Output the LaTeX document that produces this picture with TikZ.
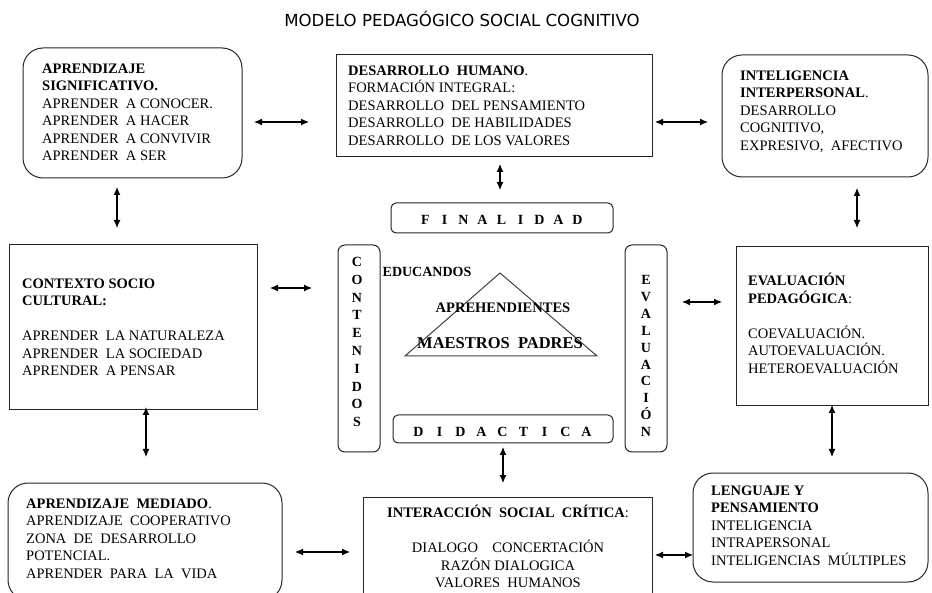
\documentclass[tikz,border=0pt]{standalone}
\usepackage{fontspec}
\setmainfont{Liberation Serif}
\newfontfamily\titlefont{DejaVu Sans}
\usetikzlibrary{arrows.meta}
\newcommand\tstrut{\rule{0pt}{12pt}}
\tikzset{
  box/.style={draw=black!85, line width=1pt, inner sep=0pt},
  rbox/.style={box, rounded corners=20pt},
  vbox/.style={box, rounded corners=7pt},
  hbox/.style={box, rounded corners=5pt},
  txt/.style={anchor=north west, align=left, inner sep=0pt, font=\fontsize{14.5}{17.5}\selectfont},
  vletters/.style={align=center, inner sep=0pt},
  biarrow/.style={{Latex[length=8pt,width=7pt]}-{Latex[length=8pt,width=7pt]}, line width=1.1pt},
}
\begin{document}
\begin{tikzpicture}[x=1pt,y=-1pt]
\useasboundingbox (0,0) rectangle (932,593);
\clip (0,0) rectangle (932,593);
\fill[white] (0,0) rectangle (932,593);

% title
\node[font=\titlefont\fontsize{16.6}{19}\selectfont, anchor=base, inner sep=0pt] (title) at (462,27) {MODELO PEDAGÓGICO SOCIAL COGNITIVO};

% boxes
\node[rbox, minimum width=219pt, minimum height=130pt] (sig) at (132.5,113) {};
\node[box, minimum width=316pt, minimum height=102pt] (des) at (494,106) {};
\node[rbox, minimum width=206pt, minimum height=122pt] (inter) at (825,116) {};
\node[box, minimum width=248pt, minimum height=165pt] (ctx) at (133,327.5) {};
\node[hbox, minimum width=222pt, minimum height=30pt] (fin) at (502,218) {};
\node[vbox, minimum width=42pt, minimum height=207pt] (cont) at (359,348.5) {};
\node[vbox, minimum width=42pt, minimum height=207pt] (eval) at (646,348.5) {};
\node[hbox, minimum width=220pt, minimum height=28pt] (did) at (503,429) {};
\node[box, minimum width=192pt, minimum height=159pt] (evp) at (832,326.5) {};
\node[rbox, minimum width=274pt, minimum height=117pt] (med) at (145,541.5) {};
\node[box, minimum width=289pt, minimum height=103pt] (isc) at (507.5,548.5) {};
\node[rbox, minimum width=235pt, minimum height=109pt] (len) at (810.5,527.5) {};

% texts
\node[txt] (sigt) at (42,61) {\tstrut\textbf{APRENDIZAJE}\\\textbf{SIGNIFICATIVO.}\\APRENDER~ A CONOCER.\\APRENDER~ A HACER\\APRENDER~ A CONVIVIR\\APRENDER~ A SER};
\node[txt] (dest) at (348,63) {\tstrut\textbf{DESARROLLO~ HUMANO}.\\FORMACIÓN INTEGRAL:\\DESARROLLO~ DEL PENSAMIENTO\\DESARROLLO~ DE HABILIDADES\\DESARROLLO~ DE LOS VALORES};
\node[txt] (intert) at (740,68) {\tstrut\textbf{INTELIGENCIA}\\\textbf{INTERPERSONAL}.\\DESARROLLO\\COGNITIVO,\\EXPRESIVO,~ AFECTIVO};
\node[txt] (ctxt) at (22,276) {\tstrut\textbf{CONTEXTO SOCIO}\\\textbf{CULTURAL:}\\[17.5pt]APRENDER~ LA NATURALEZA\\APRENDER~ LA SOCIEDAD\\APRENDER~ A PENSAR};
\node[txt] (evpt) at (748,273) {\tstrut\textbf{EVALUACIÓN}\\\textbf{PEDAGÓGICA}:\\[17.5pt]COEVALUACIÓN.\\AUTOEVALUACIÓN.\\HETEROEVALUACIÓN};
\node[txt] (medt) at (26,496) {\tstrut\textbf{APRENDIZAJE~ MEDIADO}.\\APRENDIZAJE~ COOPERATIVO\\ZONA~ DE~ DESARROLLO\\POTENCIAL.\\APRENDER~ PARA~ LA~ VIDA};
\node[txt, anchor=north, align=center] (isct) at (508,505) {\tstrut\textbf{INTERACCIÓN~ SOCIAL~ CRÍTICA}:\\[17.5pt]DIALOGO~~~ CONCERTACIÓN\\RAZÓN DIALOGICA\\VALORES~ HUMANOS};
\node[txt] (lent) at (711,483) {\tstrut\textbf{LENGUAJE Y}\\\textbf{PENSAMIENTO}\\INTELIGENCIA\\INTRAPERSONAL\\INTELIGENCIAS~ MÚLTIPLES};

% spaced labels
\node[inner sep=0pt, anchor=base, font=\bfseries\fontsize{14}{17}\selectfont] (fint) at (501.5,225)
  {\makebox[19pt]{F}\makebox[19pt]{I}\makebox[19pt]{N}\makebox[19pt]{A}\makebox[19pt]{L}\makebox[19pt]{I}\makebox[19pt]{D}\makebox[19pt]{A}\makebox[19pt]{D}};
\node[inner sep=0pt, anchor=base, font=\bfseries\fontsize{14}{17}\selectfont] (didt) at (502.5,437)
  {\makebox[21pt]{D}\makebox[21pt]{I}\makebox[21pt]{D}\makebox[21pt]{A}\makebox[21pt]{C}\makebox[21pt]{T}\makebox[21pt]{I}\makebox[21pt]{C}\makebox[21pt]{A}};
\node[vletters, font=\bfseries\fontsize{14}{17.8}\selectfont] (contt) at (357,342) {C\\O\\N\\T\\E\\N\\I\\D\\O\\S};
\node[vletters, font=\bfseries\fontsize{14}{16.9}\selectfont] (evalt) at (646,356) {E\\V\\A\\L\\U\\A\\C\\I\\Ó\\N};

% triangle
\coordinate (tA) at (500,273);
\coordinate (tB) at (405,356);
\coordinate (tC) at (597,356);
\draw[line width=1pt, draw=black!75] (tA) -- (tB) -- (tC) -- cycle;
\node[inner sep=0pt, anchor=base, font=\bfseries\fontsize{14}{17}\selectfont] (edu) at (427,277) {EDUCANDOS};
\node[inner sep=0pt, anchor=base, font=\bfseries\fontsize{14.5}{17}\selectfont] (apr) at (503,313) {APREHENDIENTES};
\node[inner sep=0pt, anchor=base, font=\bfseries\fontsize{16.5}{19}\selectfont] (mae) at (500,349) {MAESTROS~~PADRES};

% arrow end points
\coordinate (a1s) at (254,122); \coordinate (a1e) at (309,122);
\coordinate (a2s) at (655,122); \coordinate (a2e) at (708,122);
\coordinate (a3s) at (117,187); \coordinate (a3e) at (117,228);
\coordinate (a4s) at (500,164); \coordinate (a4e) at (500,190);
\coordinate (a5s) at (857,188); \coordinate (a5e) at (857,228);
\coordinate (a6s) at (270,288); \coordinate (a6e) at (312,288);
\coordinate (a7s) at (682,302); \coordinate (a7e) at (722,302);
\coordinate (a8s) at (146,407); \coordinate (a8e) at (146,457);
\coordinate (a9s) at (832,405); \coordinate (a9e) at (832,457);
\coordinate (a10s) at (503,447); \coordinate (a10e) at (503,483);
\coordinate (a11s) at (295,552); \coordinate (a11e) at (350,552);
\coordinate (a12s) at (655,555); \coordinate (a12e) at (693,555);
\foreach \i in {1,...,12} { \draw[biarrow] (a\i s) -- (a\i e); }
\end{tikzpicture}
\end{document}
